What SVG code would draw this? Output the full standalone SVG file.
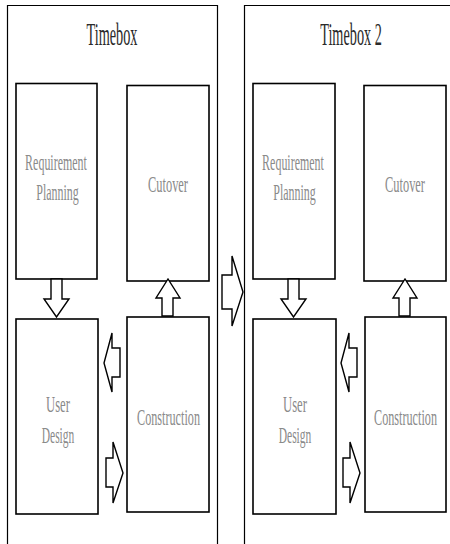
<svg xmlns="http://www.w3.org/2000/svg" width="450" height="544" viewBox="0 0 450 544">
<style>
.frame{fill:none;stroke:#000;stroke-width:1.2}
.box{fill:#fff;stroke:#000;stroke-width:1.6}
.arr{fill:#fff;stroke:#000;stroke-width:1.4;stroke-linejoin:miter}
.title{font-family:"Liberation Serif",serif;font-size:31px;fill:#2a2a2a;text-anchor:middle}
.lbl{font-family:"Liberation Serif",serif;font-size:23px;fill:#8a8a8a;text-anchor:middle}
</style>
<rect width="450" height="544" fill="#fff"/>
<g id="timebox1">
<path class="frame" d="M7.5,544 V5.5 H217.5 V544"/>
<text class="title" transform="translate(112,45) scale(0.46,1)">Timebox</text>
</g>
<g id="timebox2">
<path class="frame" d="M244.5,544 V5.5 H450"/>
<text class="title" transform="translate(351,45) scale(0.46,1)">Timebox 2</text>
</g>
<g id="req1">
<rect class="box" x="16" y="83.5" width="81" height="195.5"/>
<text class="lbl" transform="translate(56,170) scale(0.52,1)">Requirement</text>
<text class="lbl" transform="translate(57.5,200) scale(0.52,1)">Planning</text>
</g>
<g id="cutover1">
<rect class="box" x="127" y="85.5" width="82" height="195.5"/>
<text class="lbl" transform="translate(168,192) scale(0.54,1)">Cutover</text>
</g>
<g id="design1">
<rect class="box" x="16" y="319" width="82" height="195"/>
<text class="lbl" transform="translate(58,412) scale(0.55,1)">User</text>
<text class="lbl" transform="translate(58,443) scale(0.5,1)">Design</text>
</g>
<g id="construction1">
<rect class="box" x="127" y="317" width="82" height="195"/>
<text class="lbl" transform="translate(168.5,425) scale(0.53,1)">Construction</text>
</g>
<g id="req2">
<rect class="box" x="253" y="83.5" width="82" height="195.5"/>
<text class="lbl" transform="translate(293,170) scale(0.52,1)">Requirement</text>
<text class="lbl" transform="translate(294.5,200) scale(0.52,1)">Planning</text>
</g>
<g id="cutover2">
<rect class="box" x="364" y="85.5" width="82" height="195.5"/>
<text class="lbl" transform="translate(405,192) scale(0.54,1)">Cutover</text>
</g>
<g id="design2">
<rect class="box" x="253" y="319" width="83" height="195"/>
<text class="lbl" transform="translate(295,412) scale(0.55,1)">User</text>
<text class="lbl" transform="translate(295,443) scale(0.5,1)">Design</text>
</g>
<g id="construction2">
<rect class="box" x="365" y="317" width="81" height="195"/>
<text class="lbl" transform="translate(405.5,425) scale(0.53,1)">Construction</text>
</g>
<g id="connectors">
<polygon class="arr" points="51,279 62,279 62,299 69,299 56.5,317 44,299 51,299"/>
<polygon class="arr" points="162,316 173,316 173,298 180,298 168,279 156,298 162,298"/>
<polygon class="arr" points="120,348 112,348 112,333 104,363 112,392 112,377 120,377"/>
<polygon class="arr" points="106,458 113,458 113,442 123,473 113,503 113,487 106,487"/>
<polygon class="arr" points="222,275 232,275 232,256 243,292 232,326 232,309 222,309"/>
<polygon class="arr" points="288,279 299,279 299,299 306,299 293.5,317 281,299 288,299"/>
<polygon class="arr" points="399,316 410,316 410,298 417,298 405,279 393,298 399,298"/>
<polygon class="arr" points="357,348 349,348 349,333 341,363 349,392 349,377 357,377"/>
<polygon class="arr" points="343,458 350,458 350,442 360,473 350,503 350,487 343,487"/>
</g>
</svg>
